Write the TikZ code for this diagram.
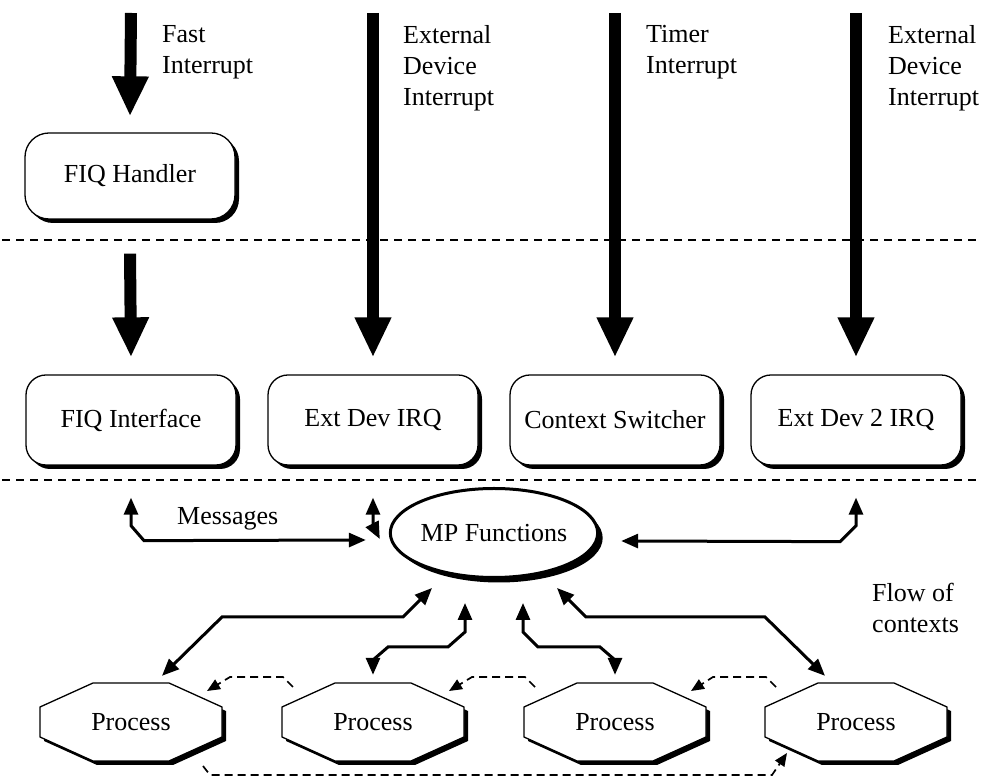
\documentclass[tikz,border=0pt]{standalone}
\usepackage{fontspec}
\setmainfont{Liberation Serif}
\usetikzlibrary{arrows.meta,shapes.geometric,shadows,backgrounds,calc}

\begin{document}
\begin{tikzpicture}[x=1pt,y=1pt,
  font=\fontsize{26}{31}\selectfont,
  blackshadow/.style={drop shadow={shadow xshift=#1, shadow yshift=-#1, opacity=1, fill=black}},
  rbox/.style={draw, line width=1.3pt, fill=white, rounded corners=20pt,
    minimum width=210pt, minimum height=90pt, inner sep=0pt, blackshadow=4pt},
  proc/.style={minimum width=182pt, minimum height=78pt, inner sep=0pt},
  octo/.style={draw, line width=1.3pt, fill=white, blackshadow=4pt},
  bigarrow/.style={line width=12pt, -{Triangle[width=34pt,length=40pt]}},
  link/.style={line width=3pt,
    {Triangle[width=14pt,length=17pt]}-{Triangle[width=14pt,length=17pt]}},
  flow/.style={line width=1.7pt, dash pattern=on 8pt off 5pt,
    -{Triangle[width=11pt,length=13pt]}},
  divider/.style={line width=1.3pt, dash pattern=on 8pt off 6pt},
  lbl/.style={anchor=base west, align=left, inner sep=0pt}]
\useasboundingbox (0,0) rectangle (983,776);

% layer separators
\draw[divider] (2,536) -- (977,536);
\draw[divider] (2,296) -- (977,296);

% handler boxes
\node[rbox, minimum height=86pt, rounded corners=24pt] (fiqh) at (130,600) {FIQ Handler};
\node[rbox] (fiqi) at (131,356) {FIQ Interface};
\node[rbox] (edi)  at (373,356) {Ext Dev IRQ};
\node[rbox] (cs)   at (615,356) {Context Switcher};
\node[rbox] (ed2)  at (856,356) {Ext Dev 2 IRQ};

% message passing core
\node[ellipse, draw, line width=3pt, fill=white, minimum width=194pt,
  minimum height=89pt, inner sep=0pt, blackshadow=5pt] (mp) at (494,243) {MP Functions};

% processes
\node[proc] (p1) at (131,54) {Process};
\node[proc] (p2) at (373,54) {Process};
\node[proc] (p3) at (615,54) {Process};
\node[proc] (p4) at (856,54) {Process};
\begin{scope}[on background layer]
  \foreach \n in {p1,p2,p3,p4}
    \draw[octo, shift={(\n.center)}] (-91,15) -- (-38,39) -- (38,39) -- (91,15)
      -- (91,-15) -- (38,-39) -- (-38,-39) -- (-91,-15) -- cycle;
\end{scope}

% interrupt sources
\coordinate (s1) at (131,763);
\coordinate (s2) at (373,763);
\coordinate (s3) at (615,763);
\coordinate (s4) at (856,763);
\draw[bigarrow] (s1) -- ([yshift=16pt]fiqh.north);
\draw[bigarrow] ([yshift=-34pt]fiqh.south) -- ([yshift=17pt]fiqi.north);
\draw[bigarrow] (s2) -- ([yshift=17pt]edi.north);
\draw[bigarrow] (s3) -- ([yshift=17pt]cs.north);
\draw[bigarrow] (s4) -- ([yshift=17pt]ed2.north);

% multi-line labels are placed by the baseline of their last line
\node[lbl] (l1) at (162,702) {Fast\\Interrupt};
\node[lbl] (l2) at (403,670) {External\\Device\\Interrupt};
\node[lbl] (l3) at (646,702) {Timer\\Interrupt};
\node[lbl] (l4) at (888,670) {External\\Device\\Interrupt};

% message links
\draw[link] ([yshift=-32pt]fiqi.south) -- ++(0,-28) -- ++(13,-15)
  -- ([xshift=-23pt,yshift=-7pt]mp.west);
\draw[link] ([yshift=-32pt]edi.south) -- ++(0,-28)
  -- ([xshift=-9pt,yshift=-6pt]mp.west);
\draw[link] ([yshift=-32pt]ed2.south) -- ++(0,-28) -- ++(-16,-16)
  -- ([xshift=22pt,yshift=-8pt]mp.east);
\node[lbl] (msg) at (177,251) {Messages};

\draw[link] ([xshift=-62pt,yshift=-55pt]mp.center) -- ++(-29,-29) -- ++(-181,0)
  -- ([xshift=31pt,yshift=7pt]p1.north);
\draw[link] ([xshift=-29pt,yshift=-70pt]mp.center) -- ++(0,-29) -- ++(-17,-15)
  -- ++(-60,0) -- ++(-15,-13) -- ([yshift=8pt]p2.north);
\draw[link] ([xshift=29pt,yshift=-70pt]mp.center) -- ++(0,-29) -- ++(15,-15)
  -- ++(62,0) -- ++(15,-13) -- ([yshift=8pt]p3.north);
\draw[link] ([xshift=63pt,yshift=-55pt]mp.center) -- ++(29,-29) -- ++(179,0)
  -- ([xshift=-31pt,yshift=7pt]p4.north);

% context flow between processes
\draw[flow] ([xshift=-80pt,yshift=35pt]p2.center) -- ++(-10,10) -- ++(-53,0)
  -- ([xshift=76pt,yshift=31pt]p1.center);
\draw[flow] ([xshift=-80pt,yshift=35pt]p3.center) -- ++(-10,10) -- ++(-53,0)
  -- ([xshift=76pt,yshift=31pt]p2.center);
\draw[flow] ([xshift=-80pt,yshift=35pt]p4.center) -- ++(-10,10) -- ++(-53,0)
  -- ([xshift=76pt,yshift=31pt]p3.center);
\draw[flow] ([xshift=72pt,yshift=-44pt]p1.center) -- ++(7,-9) -- ++(562,0)
  -- ([xshift=-69pt,yshift=-31pt]p4.center);
\node[lbl] (flowtxt) at (872,143) {Flow of\\contexts};
\end{tikzpicture}
\end{document}
